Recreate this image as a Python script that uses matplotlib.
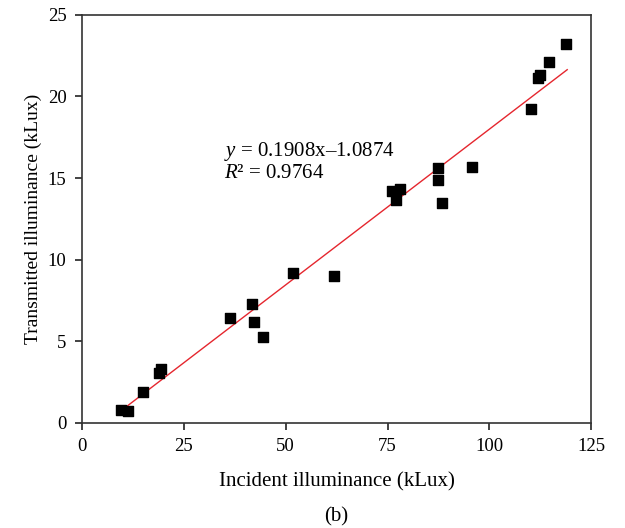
import numpy as np
import matplotlib
matplotlib.use("Agg")
import matplotlib.pyplot as plt

#%% data
incident = [9.6, 11.3, 15.0, 18.9, 19.4, 36.3, 41.7, 42.2, 44.4, 51.8, 61.9,
            76.1, 77.0, 78.1, 87.4, 87.4, 88.4, 95.8, 110.3, 112.0, 112.5, 114.7, 118.9]
transmitted = [0.8, 0.73, 1.9, 3.06, 3.3, 6.43, 7.29, 6.19, 5.27, 9.19, 9.0,
               14.2, 13.66, 14.3, 15.6, 14.9, 13.5, 15.7, 19.2, 21.1, 21.3, 22.1, 23.2]
slope, intercept = 0.1908, -1.0874
fit_range = [9.6, 119.1]

plt.rcParams['font.family'] = ['Liberation Serif', 'DejaVu Serif']
plt.rcParams['mathtext.fontset'] = 'custom'
plt.rcParams['mathtext.it'] = 'Liberation Serif:italic'
plt.rcParams['mathtext.rm'] = 'Liberation Serif'

fig = plt.figure(figsize=(6.25, 5.28), dpi=100)
ax = fig.add_axes([0.131, 0.199, 0.815, 0.773])

ax.scatter(incident, transmitted, marker='s', s=58, color='black', zorder=3)
xf = np.array(fit_range)
ax.plot(xf, slope*xf + intercept, color='#e5262e', lw=1.0, zorder=2)

ax.text(35.0, 16.6, '$y$ = 0.1908x\u20131.0874', fontsize=15, va='center')
ax.text(35.0, 15.3, '$R$\u00b2 = 0.9764', fontsize=15, va='center')

ax.set_xlim(0, 125)
ax.set_ylim(0, 25)
ax.set_xticks([0, 25, 50, 75, 100, 125])
ax.set_yticks([0, 5, 10, 15, 20, 25])
ax.tick_params(direction='out', length=5, width=1.2, labelsize=13.5, pad=6,
               colors='#222222', labelcolor='black')
for s in ax.spines.values():
    s.set_linewidth(1.2)
    s.set_color('#333333')

ax.set_xlabel('Incident illuminance (kLux)', fontsize=15, labelpad=12)
ax.set_ylabel('Transmitted illuminance (kLux)', fontsize=14, labelpad=4)
fig.text(0.538, 0.012, '(b)', fontsize=15, ha='center')

fig.savefig('out.png', dpi=100)
